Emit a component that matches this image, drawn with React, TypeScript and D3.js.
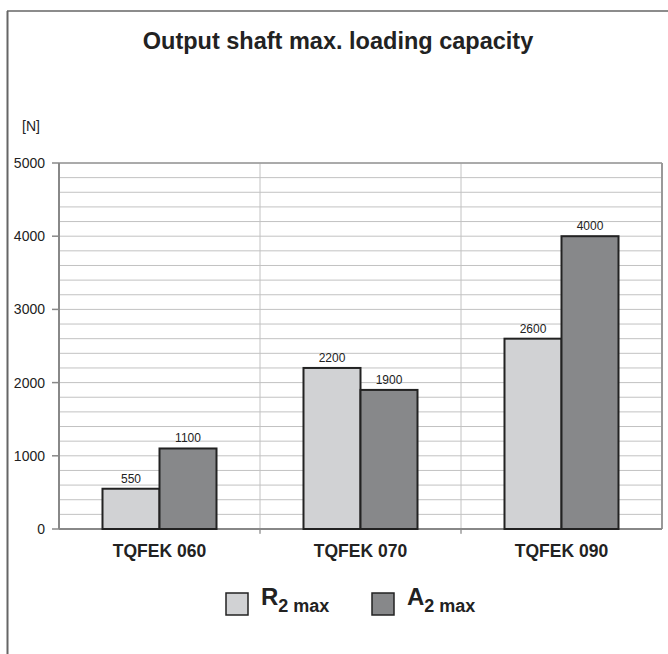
import React from "react";
import * as d3 from "d3";

const categories = ["TQFEK 060", "TQFEK 070", "TQFEK 090"];
const seriesNames = ["R", "A"];
const r2Values = [550, 2200, 2600];
const a2Values = [1100, 1900, 4000];
const yTicks = [0, 1000, 2000, 3000, 4000, 5000];

const W = 668, H = 654;
const left = 59, right = 662, top = 163, bottom = 529;

export default function App() {
  const x = d3.scaleBand().domain(categories).range([left, right]).paddingInner(0).paddingOuter(0);
  const y = d3.scaleLinear().domain([0, 5000]).range([bottom, top]);
  const inner = d3.scaleBand().domain(seriesNames).range([0, x.bandwidth()]).paddingInner(0).paddingOuter(0.763);
  const minor = d3.range(0, 5001, 200);
  const colors = ["#d1d2d4", "#87888a"];
  const data = [r2Values, a2Values];
  const font = "Arial, 'Liberation Sans', sans-serif";
  return (
    <svg width={W} height={H} style={{ position: "absolute", left: 0, top: 0, background: "#fff" }} fontFamily={font}>
      <rect x={0} y={0} width={W} height={H} fill="#fff" />
      <line x1={7} y1={11} x2={668} y2={11} stroke="#666" strokeWidth={1.5} />
      <line x1={7.5} y1={11} x2={7.5} y2={654} stroke="#666" strokeWidth={2} />
      <text x={338} y={49} textAnchor="middle" fontSize={23.5} fontWeight="bold" fill="#222">Output shaft max. loading capacity</text>
      <text x={22} y={131} fontSize={14} fill="#222">[N]</text>
      {minor.map((v) => (
        <line key={v} x1={left} x2={right} y1={y(v)} y2={y(v)} stroke="#c2c2c2" strokeWidth={1} />
      ))}
      {categories.slice(1).map((c) => (
        <line key={c} x1={x(c)!} x2={x(c)!} y1={top} y2={bottom + 4} stroke="#c2c2c2" strokeWidth={1} />
      ))}
      <line x1={right} x2={right} y1={top} y2={bottom} stroke="#999" strokeWidth={2} />
      <line x1={left} x2={right} y1={top} y2={bottom === 0 ? 0 : top} stroke="#999" strokeWidth={1.5} />
      <line x1={left} x2={left} y1={top} y2={bottom} stroke="#888" strokeWidth={2} />
      <line x1={left} x2={right} y1={bottom} y2={bottom} stroke="#888" strokeWidth={2} />
      {categories.slice(1).map((c) => (
        <line key={"t" + c} x1={x(c)!} x2={x(c)!} y1={bottom} y2={bottom + 5} stroke="#888" strokeWidth={1} />
      ))}
      {yTicks.map((v) => (
        <g key={v}>
          <line x1={left - 7} x2={left} y1={y(v)} y2={y(v)} stroke="#888" strokeWidth={1.5} />
          <text x={45} y={y(v) + 5} textAnchor="end" fontSize={14} fill="#222">{v}</text>
        </g>
      ))}
      {categories.map((c, i) => (
        <g key={c}>
          {seriesNames.map((s, j) => {
            const bx = x(c)! + inner(s)!;
            const v = data[j][i];
            return (
              <g key={s}>
                <rect x={bx} y={y(v)} width={inner.bandwidth()} height={bottom - y(v)} fill={colors[j]} stroke="#222" strokeWidth={2} />
                <text x={bx + inner.bandwidth() / 2} y={y(v) - 6} textAnchor="middle" fontSize={12} fill="#222">{v}</text>
              </g>
            );
          })}
          <text x={x(c)! + x.bandwidth() / 2} y={557} textAnchor="middle" fontSize={17.5} fontWeight="bold" fill="#222">{c}</text>
        </g>
      ))}
      {seriesNames.map((s, j) => {
        const lx = j === 0 ? 226 : 372;
        return (
          <g key={s}>
            <rect x={lx} y={593} width={22} height={22} fill={colors[j]} stroke="#222" strokeWidth={1.5} />
            <text x={lx + 35} y={605} fontSize={24} fontWeight="bold" fill="#222">
              {s}
              <tspan fontSize={18} dy={7}>2 max</tspan>
            </text>
          </g>
        );
      })}
    </svg>
  );
}
